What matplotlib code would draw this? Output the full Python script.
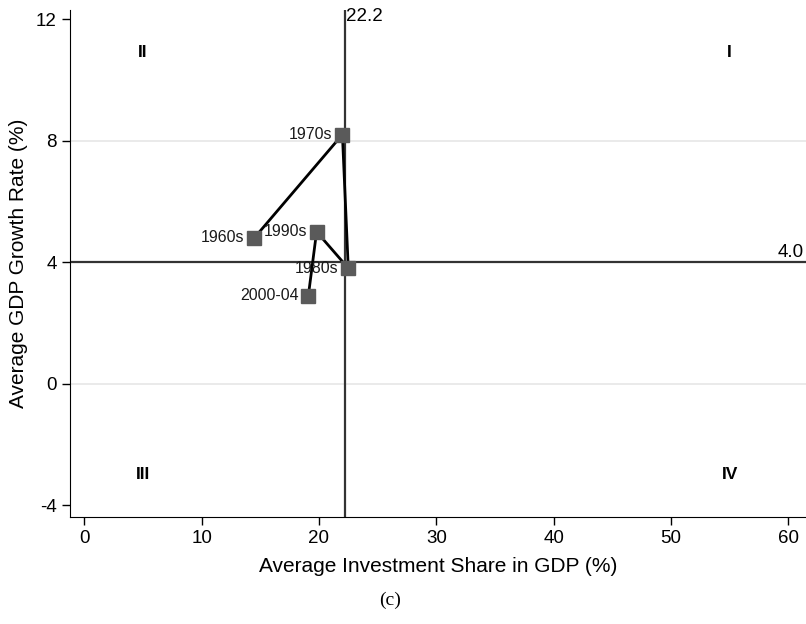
import matplotlib
matplotlib.use("Agg")
import matplotlib.pyplot as plt

# Decade averages: investment share vs GDP growth
periods = ["1960s", "1970s", "1980s", "1990s", "2000-04"]
invest = [14.5, 22.0, 22.5, 19.8, 19.1]
growth = [4.8, 8.2, 3.8, 5.0, 2.9]

mean_invest = 22.2
mean_growth = 4.0

x_ticks = [0, 10, 20, 30, 40, 50, 60]
y_ticks = [-4, 0, 4, 8, 12]

quadrants = ["I", "II", "III", "IV"]
quad_x = [55, 5, 5, 55]
quad_y = [10.9, 10.9, -3, -3]

plt.rcParams["font.family"] = ["Liberation Sans", "DejaVu Sans"]
plt.rcParams["axes.unicode_minus"] = False

fig = plt.figure(figsize=(8.06, 6.24), dpi=100)
ax = fig.add_axes([0.087, 0.171, 0.913, 0.813])

# Light gridlines
for g in [0, 8]:
    ax.axhline(g, color="#e6e6e6", lw=1.2, zorder=0)

# Reference lines at the means
ax.axvline(mean_invest, color="#333333", lw=1.6, zorder=1)
ax.axhline(mean_growth, color="#333333", lw=1.6, zorder=1)

ax.plot(invest, growth, color="black", lw=2, zorder=2)
ax.plot(invest, growth, "s", color="#5a5a5a", ms=10, zorder=3, lw=0)

# Point labels to the left of the markers
for name, xv, yv in zip(periods, invest, growth):
    ax.annotate(name, (xv, yv), xytext=(-7, 0), textcoords="offset points",
                ha="right", va="center", fontsize=11.5, color="#1a1a1a",
                zorder=4)

ax.text(mean_invest + 0.1, 12.35, f"{mean_invest:.1f}", ha="left", va="top",
        fontsize=13.5)
ax.text(61.3, mean_growth + 0.05, f"{mean_growth:.1f}", ha="right",
        va="bottom", fontsize=13.5)

for q, qx, qy in zip(quadrants, quad_x, quad_y):
    ax.text(qx, qy, q, ha="center", va="center", fontsize=12.5,
            fontweight="bold")

ax.set_xlim(-1.2, 61.5)
ax.set_ylim(-4.4, 12.3)
ax.set_xticks(x_ticks)
ax.set_yticks(y_ticks)
ax.tick_params(labelsize=13.5, length=6, width=1)
ax.spines["top"].set_visible(False)
ax.spines["right"].set_visible(False)

ax.set_xlabel("Average Investment Share in GDP (%)", fontsize=15, labelpad=7)
ax.set_ylabel("Average GDP Growth Rate (%)", fontsize=15, labelpad=6)

fig.text(0.484, 0.038, "(c)", ha="center", va="center", fontsize=14,
         family=["Liberation Serif", "DejaVu Serif"])

fig.savefig("out.png", dpi=100)
